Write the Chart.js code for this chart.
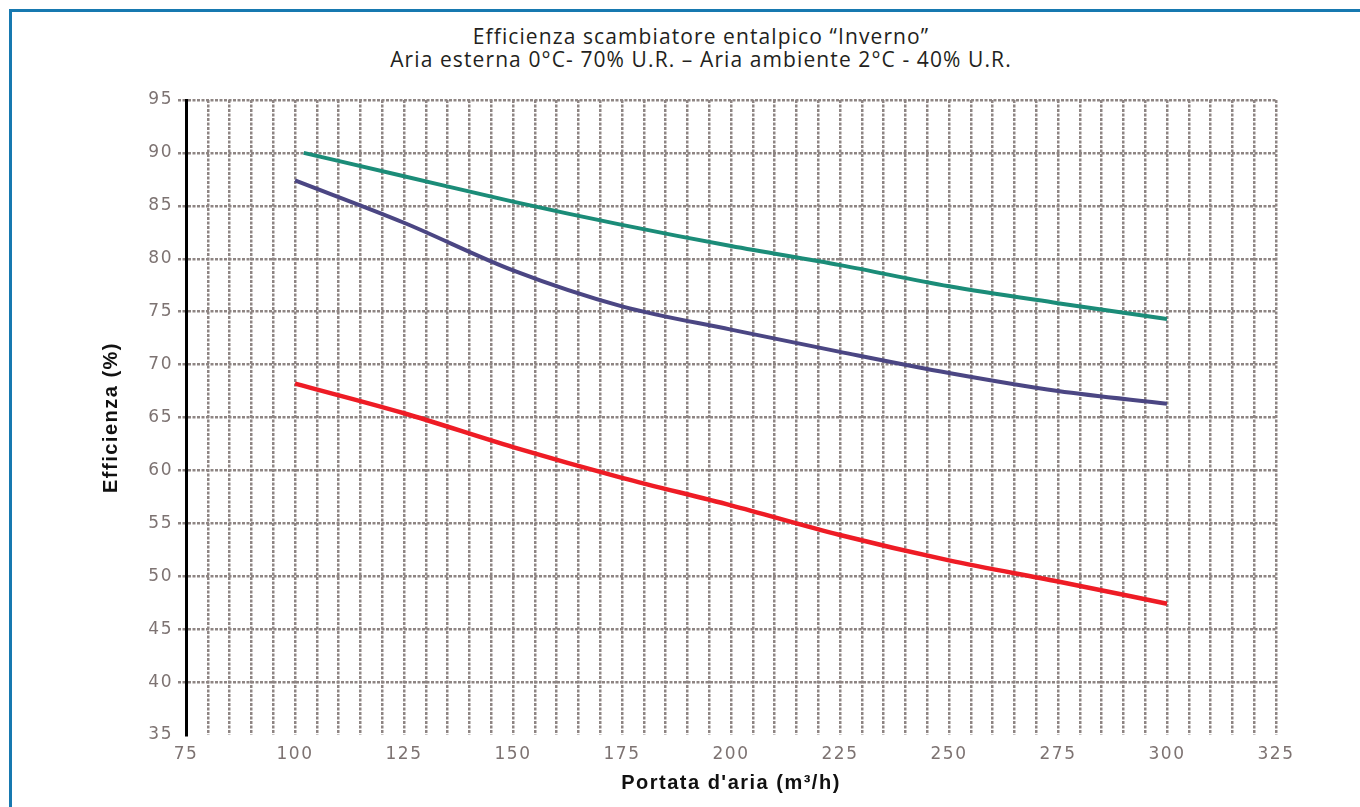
<!DOCTYPE html>
<html>
<head>
    <title>Efficienza scambiatore entalpico</title>
    <script src="https://cdn.jsdelivr.net/npm/chart.js"></script>
    <style>
        body { margin: 0; background: #fff; }
        #wrap { position: relative; width: 1360px; height: 807px; overflow: hidden; }
        #cornice { position: absolute; left: 9px; top: 9px; width: 1400px; height: 900px;
                   border-top: 3px solid #1779b0; border-left: 3px solid #1779b0; }
        .titolo { position: absolute; left: 301px; width: 800px; text-align: center;
                  font-family: "Open Sans", sans-serif; font-size: 21px; letter-spacing: 1.1px; color: #231f20; }
        #grafico-box { position: absolute; left: 0; top: 0; width: 1360px; height: 807px; }
    </style>
</head>
<body>
<div id="wrap">
    <div id="cornice"></div>
    <div class="titolo" style="top: 22px;">Efficienza scambiatore entalpico “Inverno”</div>
    <div class="titolo" style="top: 45px;">Aria esterna 0°C- 70% U.R. – Aria ambiente 2°C - 40% U.R.</div>
    <div id="grafico-box"><canvas id="grafico"></canvas></div>
</div>

<script>
    // valori (portata m3/h -> efficienza %)
    var portataVerde = [102, 125, 150, 175, 200, 225, 250, 275, 300];
    var effVerde = [90.0, 87.8, 85.4, 83.2, 81.2, 79.4, 77.4, 75.8, 74.3];

    var portataViola = [100, 125, 150, 175, 200, 225, 250, 275, 300];
    var effViola = [87.4, 83.4, 78.9, 75.5, 73.3, 71.2, 69.2, 67.5, 66.3];

    var portataRossa = [100, 125, 150, 175, 200, 225, 250, 275, 300];
    var effRossa = [68.2, 65.4, 62.2, 59.3, 56.7, 53.9, 51.5, 49.5, 47.4];

    function punti(xs, ys) {
        return xs.map(function(x, i) { return { x: x, y: ys[i] }; });
    }

    var grigliaColore = '#8e8583';

    // spaziatura lettere come nell'originale
    var spaziatura = {
        id: 'spaziatura',
        beforeLayout: function(chart) { chart.ctx.letterSpacing = '1.5px'; },
        beforeDraw: function(chart) { chart.ctx.letterSpacing = '1.5px'; }
    };

    new Chart(document.getElementById('grafico'), {
        type: 'line',
        data: {
            datasets: [
                { data: punti(portataVerde, effVerde), borderColor: '#1b8c78', borderWidth: 4 },
                { data: punti(portataViola, effViola), borderColor: '#4b4683', borderWidth: 4 },
                { data: punti(portataRossa, effRossa), borderColor: '#ee1c25', borderWidth: 4.5 }
            ]
        },
        options: {
            responsive: true,
            maintainAspectRatio: false,
            animation: false,
            layout: { padding: { top: 100, right: 84, bottom: 0, left: 0 } },
            elements: {
                point: { radius: 0 },
                line: { cubicInterpolationMode: 'monotone', fill: false }
            },
            plugins: { legend: { display: false }, tooltip: { enabled: false } },
            scales: {
                x: {
                    type: 'linear',
                    min: 75, max: 325,
                    afterFit: function(s) { s.height = 72; },
                    border: { display: false, dash: [3, 1.5] },
                    grid: {
                        lineWidth: 2.5,
                        drawTicks: false,
                        color: function(c) { return c.tick && c.tick.value === 75 ? 'rgba(0,0,0,0)' : grigliaColore; }
                    },
                    ticks: {
                        stepSize: 5,
                        autoSkip: false,
                        maxRotation: 0,
                        padding: 9,
                        color: '#7d7372',
                        font: { family: 'DejaVu Sans', size: 17 },
                        callback: function(v) { return v % 25 === 0 ? v : ''; }
                    },
                    title: {
                        display: true,
                        text: "Portata d'aria (m³/h)",
                        color: '#111',
                        font: { family: 'Liberation Sans', size: 20, weight: 'bold' },
                        padding: { top: 0, bottom: 12 }
                    }
                },
                y: {
                    min: 35, max: 95,
                    afterFit: function(s) { s.width = 186; },
                    border: { display: true, color: '#000', width: 3, dash: [3, 1.5] },
                    grid: {
                        lineWidth: 2.5,
                        tickLength: 8,
                        tickBorderDash: [3, 1.5],
                        color: function(c) { return c.tick && c.tick.value === 35 ? 'rgba(0,0,0,0)' : grigliaColore; }
                    },
                    ticks: {
                        stepSize: 5,
                        padding: 5,
                        color: '#7d7372',
                        font: { family: 'DejaVu Sans', size: 17 }
                    },
                    title: {
                        display: true,
                        text: 'Efficienza (%)',
                        color: '#111',
                        font: { family: 'Liberation Sans', size: 20, weight: 'bold' },
                        padding: { top: 99, bottom: 0 }
                    }
                }
            }
        },
        plugins: [spaziatura]
    });
</script>
</body>
</html>
